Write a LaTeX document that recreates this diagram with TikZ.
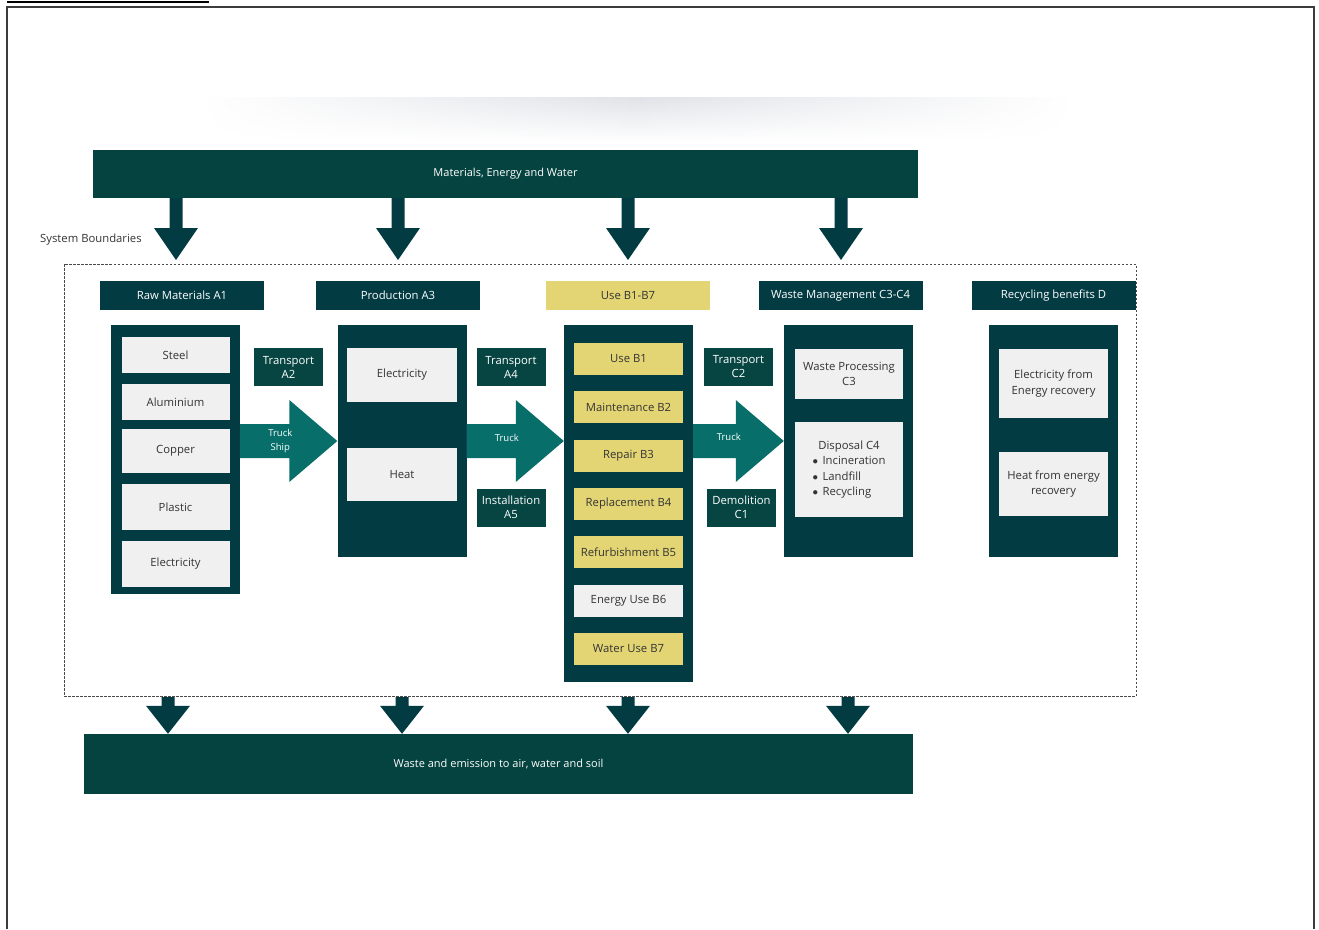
\documentclass[tikz,border=0pt]{standalone}
\usepackage{fontspec}
\setmainfont{Open Sans}
\usetikzlibrary{calc,fadings}

\definecolor{darkteal}{HTML}{033B43}
\definecolor{barteal}{HTML}{04433F}
\definecolor{lblteal}{HTML}{064542}
\definecolor{flowteal}{HTML}{076E6A}
\definecolor{useyellow}{HTML}{E3D574}
\definecolor{itemgray}{HTML}{F0F0F0}
\definecolor{itemtext}{HTML}{333333}
\definecolor{framegray}{HTML}{3C3C3C}
\definecolor{boundgray}{HTML}{4A4A4A}
\definecolor{shadowgray}{HTML}{E0E2E7}

\tikzfading[name=fade sides, left color=transparent!100, right color=transparent!100, middle color=transparent!0]

\tikzset{
	stagebox/.style={fill=darkteal, minimum width=129, minimum height=#1},
	stagehead/.style={fill=darkteal, text=white, minimum width=164, minimum height=29, font=\fontsize{11.3}{13}\selectfont},
	partbox/.style={fill=itemgray, text=itemtext, minimum width=108, minimum height=#1, align=center, font=\fontsize{11.3}{15.5}\selectfont},
	partbox/.default=32,
	useitem/.style={partbox=#1, fill=useyellow},
	useitem/.default=32,
	transbox/.style={fill=lblteal, text=white, minimum width=69, minimum height=38, align=center, font=\fontsize{11.3}{14}\selectfont},
	flowbar/.style={fill=barteal, text=white, font=\fontsize{11}{13}\selectfont},
	flowlbl/.style={text=white, align=center, font=\fontsize{9.5}{14}\selectfont},
}

% wide arrow between two columns: start, tip
\newcommand{\flowarrow}[2]{%
	\fill[flowteal] ($(#1)+(0,-17)$) -- ($(#2)+(-48,-17)$) -- ($(#2)+(-48,-41)$) -- (#2)
		-- ($(#2)+(-48,41)$) -- ($(#2)+(-48,17)$) -- ($(#1)+(0,17)$) -- cycle;}
% downward arrow: start, tip, head length
\newcommand{\downflow}[3]{%
	\fill[darkteal] ($(#1)+(-6.5,0)$) -- ($(#2)+(-6.5,-#3)$) -- ($(#2)+(-22,-#3)$) -- (#2)
		-- ($(#2)+(22,-#3)$) -- ($(#2)+(6.5,-#3)$) -- ($(#1)+(6.5,0)$) -- cycle;}
\newcommand{\dispbullet}{\makebox[10pt][l]{$\bullet$}}

\begin{document}
\begin{tikzpicture}[x=1pt, y=-1pt, every node/.style={inner sep=0pt}]
	\useasboundingbox (0,0) rectangle (1319,929);

	% page frame
	\draw[framegray, line width=1.8] (7,929) -- (7,7) -- (1314,7) -- (1314,929);
	\draw[black, line width=1.5] (7,2) -- (209,2);
	\shade[top color=shadowgray, bottom color=white, path fading=fade sides] (200,97) rectangle (1075,142);

	% bars
	\node[flowbar, minimum width=825, minimum height=48] (topbar) at (505.5,174) {Materials, Energy and Water};
	\node[flowbar, minimum width=829, minimum height=60] (botbar) at (498.5,764) {Waste and emission to air, water and soil};

	% system boundary
	\node[draw=boundgray, line width=0.9, dash pattern=on 2.5pt off 1.5pt, minimum width=1072, minimum height=432] (bound) at (600,480) {};
	\node[anchor=west, text=itemtext, font=\fontsize{11.3}{13}\selectfont] (sysb) at (40,240) {System Boundaries};

	% headers
	\node[stagehead] (hA1) at (182,295.5) {Raw Materials A1};
	\node[stagehead] (hA3) at (398,295.5) {Production A3};
	\node[stagehead, fill=useyellow, text=itemtext] (hB) at (628,295.5) {Use B1-B7};
	\node[stagehead] (hC) at (840.5,295.5) {Waste Management C3-C4};
	\node[stagehead] (hD) at (1053.5,295.5) {Recycling benefits D};

	% columns
	\node[stagebox=269] (raw) at (175.5,459.5) {};
	\node[stagebox=232] (prod) at (402,441) {};
	\node[stagebox=357] (use) at (628.5,503.5) {};
	\node[stagebox=232] (waste) at (848.5,441) {};
	\node[stagebox=232] (recyc) at (1053.5,441) {};

	\foreach \name/\y/\h [count=\i] in {Steel/355/36, Aluminium/402/36, Copper/451/44, Plastic/507/46, Electricity/564/46} {
		\node[partbox=\h] (raw\i) at (175.5,\y) {\name};
	}

	\node[partbox=54, minimum width=110] (prod1) at (402,375) {Electricity};
	\node[partbox=53, minimum width=110] (prod2) at (402,474.5) {Heat};

	\foreach \name/\y/\kind [count=\i] in {Use B1/359/useitem, Maintenance B2/407/useitem, Repair B3/456/useitem, Replacement B4/504/useitem, Refurbishment B5/552/useitem, Energy Use B6/601/partbox, Water Use B7/649/useitem} {
		\node[\kind, minimum width=109] (use\i) at (628.5,\y) {\name};
	}

	\node[partbox=50] (waste1) at (849,374) {Waste Processing\\C3};
	\node[partbox=95] (waste2) at (849,469.5) {\begin{tabular}{@{}l@{}}\multicolumn{1}{@{}c@{}}{Disposal C4}\\ \dispbullet Incineration\\ \dispbullet Landfill\\ \dispbullet Recycling\end{tabular}};

	\node[partbox=69, minimum width=109] (recyc1) at (1053.5,383.5) {Electricity from\\Energy recovery};
	\node[partbox=64, minimum width=109] (recyc2) at (1053.5,484) {Heat from energy\\recovery};

	% transport steps
	\node[transbox] (tA2) at (288.5,367) {Transport\\A2};
	\node[transbox] (tA4) at (511,367) {Transport\\A4};
	\node[transbox] (iA5) at (511,507.5) {Installation\\A5};
	\node[transbox] (tC2) at (738.5,367) {Transport\\C2};
	\node[transbox] (dC1) at (741.5,507.5) {Demolition\\C1};

	% flows
	\flowarrow{raw.east |- prod.west}{prod.west}
	\node[flowlbl] (fA) at ($(prod.west)+(-57,0)$) {Truck\\Ship};
	\flowarrow{prod.east}{use.west |- prod.east}
	\node[flowlbl] (fB) at ($(use.west |- prod.east)+(-57,-3)$) {Truck};
	\flowarrow{use.east |- waste.west}{waste.west}
	\node[flowlbl] (fC) at ($(waste.west)+(-55,-4)$) {Truck};

	\foreach \x [count=\i] in {176,398,628,841} {
		\coordinate (tip\i) at (\x,260);
		\downflow{topbar.south -| tip\i}{tip\i}{32}
	}
	\foreach \x [count=\i] in {168,402,628,848} {
		\coordinate (out\i) at (\x,697);
		\downflow{out\i}{botbar.north -| out\i}{28}
	}
\end{tikzpicture}
\end{document}
